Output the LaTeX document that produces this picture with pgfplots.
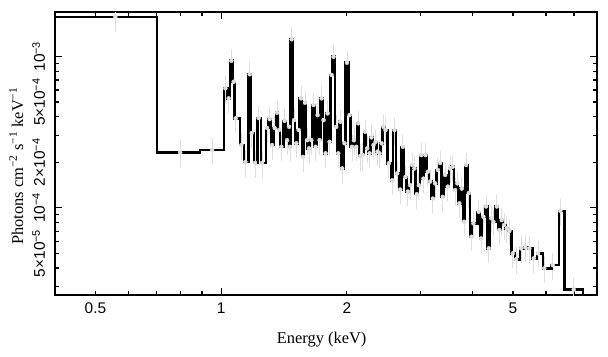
\documentclass[border=0pt]{standalone}
\usepackage{fontspec}
\setmainfont{Liberation Serif}
\newfontfamily\sansf{Liberation Sans}
\usepackage{pgfplots}
\usepackage{pgfplotstable}
\pgfplotsset{compat=1.18}
\pgfplotstableread{
E F
0.38 1.825e-3
0.7029 2.325e-4
0.8908 2.419e-4
1.0167 6.16e-4
1.0353 5.29e-4
1.0508 9.38e-4
1.0642 6.81e-4
1.0761 3.90e-4
1.1101 2.60e-4
1.1351 2.01e-4
1.1623 7.63e-4
1.1752 3.12e-4
1.1974 1.98e-4
1.2214 3.92e-4
1.2445 1.98e-4
1.2793 3.37e-4
1.2977 3.86e-4
1.3150 2.60e-4
1.3340 3.37e-4
1.3518 4.25e-4
1.3668 3.27e-4
1.3842 2.53e-4
1.4096 3.76e-4
1.4284 2.80e-4
1.4442 3.43e-4
1.4522 2.53e-4
1.4651 1.30e-3
1.4846 3.80e-4
1.5035 2.67e-4
1.5227 3.27e-4
1.5429 5.29e-4
1.5600 2.17e-4
1.5773 4.95e-4
1.5947 2.80e-4
1.6124 2.47e-4
1.6329 2.80e-4
1.6537 4.78e-4
1.6720 2.53e-4
1.6905 4.10e-4
1.7093 2.80e-4
1.7282 5.29e-4
1.7473 3.80e-4
1.7667 2.29e-4
1.7863 4.21e-4
1.8061 2.73e-4
1.8261 7.55e-4
1.8463 9.97e-4
1.8740 3.43e-4
1.8948 2.29e-4
1.9158 3.71e-4
1.9370 1.82e-4
1.9617 2.67e-4
1.9878 9.10e-4
2.0165 4.10e-4
2.0433 2.53e-4
2.0659 2.80e-4
2.0923 2.53e-4
2.1155 3.62e-4
2.1389 2.20e-4
2.1709 2.23e-4
2.1986 3.18e-4
2.2229 2.47e-4
2.2512 2.29e-4
2.2762 2.92e-4
2.3014 2.60e-4
2.3269 2.73e-4
2.3527 2.35e-4
2.3787 2.29e-4
2.4051 2.67e-4
2.4317 3.43e-4
2.4587 3.27e-4
2.5051 1.97e-4
2.5511 1.52e-4
2.5836 3.27e-4
2.6223 1.69e-4
2.6660 1.32e-4
2.7059 2.53e-4
2.7450 1.60e-4
2.7815 1.28e-4
2.8169 1.41e-4
2.8480 1.92e-4
2.8843 1.82e-4
2.9226 1.23e-4
2.9550 1.41e-4
2.9927 2.23e-4
3.0308 1.56e-4
3.0643 2.23e-4
3.1051 1.73e-4
3.1447 1.49e-4
3.1918 1.15e-4
3.2325 1.45e-4
3.2809 1.78e-4
3.3228 1.98e-4
3.3725 1.18e-4
3.4155 1.65e-4
3.4667 1.38e-4
3.5112 1.82e-4
3.5638 1.87e-4
3.6093 1.31e-4
3.6553 1.45e-4
3.6958 1.07e-4
3.7449 1.34e-4
3.7927 8.08e-5
3.8347 1.92e-4
3.8922 1.25e-4
3.9484 6.43e-5
3.9922 7.89e-5
4.1125 9.41e-5
4.1650 6.27e-5
4.2181 8.72e-5
4.2813 1.02e-4
4.3455 5.39e-5
4.4081 8.51e-5
4.4570 8.08e-5
4.5412 1.02e-4
4.6068 7.12e-5
4.6682 8.29e-5
4.7277 7.69e-5
4.7986 7.31e-5
4.8679 7.04e-5
4.9599 4.99e-5
5.0510 4.56e-5
5.1920 5.39e-5
5.3166 5.47e-5
5.4350 5.39e-5
5.5682 4.63e-5
5.7016 4.99e-5
5.9030 3.97e-5
6.1826 4.18e-5
6.4470 9.55e-5
6.6527 2.88e-5
7.3581 2.88e-5
7.3581 1.0e-6
}\spec
\begin{document}
\begin{tikzpicture}
\begin{axis}[
  xmode=log, ymode=log,
  scale only axis, width=542bp, height=283bp,
  xmin=0.4, xmax=7.95, ymin=2.65e-5, ymax=1.97e-3,
  xtick={0.5,1,2,5}, xticklabels={0.5,1,2,5},
  minor xtick={0.6,0.7,0.8,0.9,3,4,6,7},
  ytick={5e-5,1e-4,2e-4,5e-4,1e-3},
  yticklabels={5×10\textsuperscript{−5},10\textsuperscript{−4},2×10\textsuperscript{−4},5×10\textsuperscript{−4},10\textsuperscript{−3}},
  minor ytick={3e-5,4e-5,6e-5,7e-5,8e-5,9e-5,3e-4,4e-4,6e-4,7e-4,8e-4,9e-4},
  major tick length=4bp, minor tick length=4bp,
  extra x ticks={1}, extra x tick labels={},
  extra y ticks={1e-4,1e-3}, extra y tick labels={},
  extra tick style={major tick length=7.5bp},
  tick style={line width=1.2bp, black},
  axis line style={line width=1.5bp},
  ticklabel style={font=\sansf\fontsize{15.5}{18}\selectfont},
  xticklabel style={anchor=base, yshift=-18.3bp},
  yticklabel style={xshift=-10bp, rotate=90, anchor=base},
  xlabel={Energy (keV)},
  ylabel={Photons cm\textsuperscript{−2} s\textsuperscript{−1} keV\textsuperscript{−1}},
  label style={font=\fontsize{16.5}{19}\selectfont},
  xlabel style={at={(axis description cs:0.492,0)}, anchor=base, yshift=-48bp},
  ylabel style={at={(axis description cs:-0.0581,0.456)}, anchor=south, inner sep=0pt},
]
\addplot[only marks, mark=none, black!13, forget plot,
  skip coords between index={0}{3}, skip coords between index={130}{133},
  error bars/.cd, y dir=both, y fixed relative=0.2, error mark=none,
  error bar style={line width=0.9bp}]
  table[x expr=\thisrow{E}*1.007, y=F] \spec;
\addplot[only marks, mark=none, black!13, forget plot,
  error bars/.cd, y dir=both, y fixed relative=0.2, error mark=none,
  error bar style={line width=0.9bp}]
  coordinates {(0.558,1.825e-3) (0.798,2.325e-4) (0.9516,2.419e-4) (6.99,2.88e-5)};
\addplot[const plot, black, line width=2.5bp] table[x=E, y=F] \spec;
\end{axis}
\path ([xshift=-55bp,yshift=-62bp]current axis.south west) rectangle ([xshift=11bp,yshift=12bp]current axis.north east);
\end{tikzpicture}
\end{document}
